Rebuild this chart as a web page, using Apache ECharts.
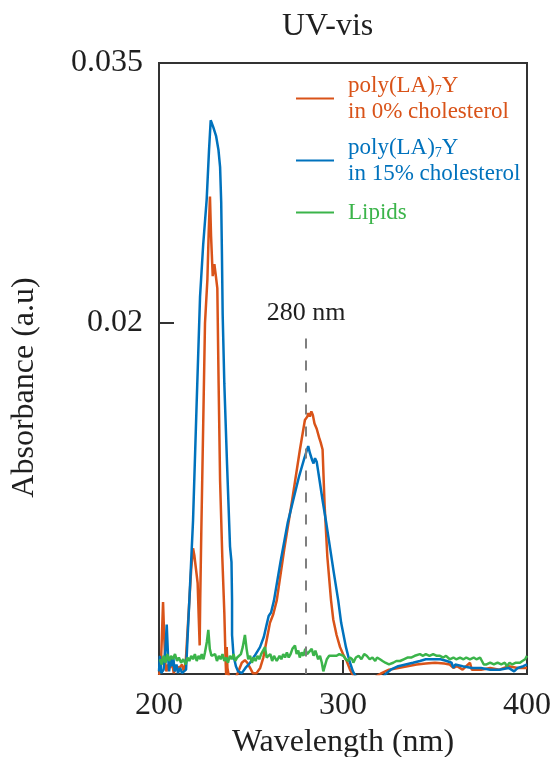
<!DOCTYPE html>
<html>
<head>
<meta charset="utf-8">
<title>UV-vis</title>
<script src="https://cdn.jsdelivr.net/npm/echarts@6/dist/echarts.min.js"></script>
<style>
  html, body { margin: 0; padding: 0; background: #fff; }
  #chart { width: 556px; height: 757px; }
</style>
</head>
<body>
<div id="chart"></div>
<script>
// Absorption spectra: wavelength (nm) and absorbance (a.u)

// poly(LA)7Y in 0% cholesterol
const wl0 = [
  200, 201, 201.6, 202.2, 202.8, 203.4, 204, 205, 206, 207,
  208, 209.5, 211, 212.5, 213.5, 214.5, 215.5, 216.5, 217.5, 218.5,
  219.2, 220.2, 221, 221.6, 222.1, 222.4, 223, 224, 225, 226.3,
  227, 227.7, 228.3, 229.2, 230.1, 230.8, 231.7, 232.4, 233.2, 234.4,
  235.5, 236.2, 236.5, 236.8, 237.2, 238, 240, 242, 243.5, 245,
  246.7, 248, 249.5, 251, 253, 255, 256.7, 258.5, 260.3, 262.1,
  264, 268, 272.4, 276.6, 279.3, 280.6, 281.2, 282, 282.8, 283.6,
  284.5, 285.2, 285.7, 287, 287.9, 288.9, 290, 291.5, 293.5, 294.7,
  296.5, 298.4, 300, 302, 303.8, 305.4, 310, 315, 321, 325,
  330, 335, 340, 345, 350, 355, 358, 360, 362, 365,
  369, 370, 375, 380, 385, 390, 395, 400
];
const abs0 = [
  -0.0003, 0.0002, 0.0020, 0.0039, 0.0020, 0.0004, -0.0001, 0.0003, 0.0001, 0.0005,
  -0.0002, 0.0002, 0.0001, 0.0003, -0.0001, 0.0004, 0.0022, 0.0040, 0.0058, 0.0070,
  0.0066, 0.0065, 0.0050, 0.0030, 0.0014, 0.0040, 0.0080, 0.0140, 0.0200, 0.0225,
  0.0252, 0.0273, 0.0250, 0.0227, 0.0234, 0.0228, 0.0220, 0.0165, 0.0109, 0.0065,
  0.0033, 0.0005, -0.0003, 0.0013, 0.0001, -0.0004, -0.0005, -0.0004, 0.0000, 0.0004,
  0.00055, 0.0004, 0.0001, -0.0002, -0.0002, 0.0001, 0.0007, 0.0017, 0.0027, 0.0032,
  0.0040, 0.0069, 0.0098, 0.0127, 0.0144, 0.0146, 0.0148, 0.0146, 0.0149, 0.0147,
  0.0142, 0.0143, 0.0139, 0.0134, 0.0131, 0.0127, 0.0095, 0.0065, 0.0040, 0.0029,
  0.0020, 0.0013, 0.0009, 0.0005, 0.0000, -0.0003, -0.0006, -0.0006, -0.0002, 0.0000,
  0.0001, 0.0002, 0.0003, 0.00035, 0.0004, 0.00035, 0.0003, 0.0001, 0.0002, 0.0000,
  0.0004, 0.0000, 0.0000, 0.0001, 0.0000, 0.0002, 0.0001, 0.0001
];

// poly(LA)7Y in 15% cholesterol
const wl15 = [
  200, 200.5, 201.2, 202.5, 203.5, 204.2, 204.9, 205.5, 206.3, 207,
  207.8, 208.5, 209.5, 210.3, 211.5, 212.5, 214.7, 216.5, 218.5, 220.5,
  222.3, 224, 225.9, 227.2, 228.1, 229.5, 231, 232.3, 233.2, 233.8,
  234.2, 234.6, 235.5, 237, 238.6, 239.4, 239.7, 239.7, 240.5, 241.8,
  243, 245, 247, 249.5, 252, 254.9, 257, 258.5, 259.6, 260.2,
  260.9, 262.5, 266, 270, 273, 276, 279, 281.1, 282, 283.2,
  284, 284.8, 285.7, 287, 289, 291, 293, 295, 297.4, 299,
  301.6, 303.5, 305.4, 307, 315, 322, 323.7, 326, 330, 334,
  338, 341.8, 345, 349, 353, 356.4, 359, 360, 361, 365,
  370, 375, 380, 385, 390, 393, 395, 398, 400
];
const abs15 = [
  -0.0001, 0.0008, -0.0002, 0.0000, 0.0012, 0.0026, 0.0008, -0.0001, 0.0006, 0.0002,
  0.0007, -0.0001, 0.0003, -0.0002, 0.0001, -0.0002, 0.0000, 0.0040, 0.0086, 0.0155,
  0.0215, 0.0245, 0.0271, 0.0300, 0.0317, 0.0313, 0.0308, 0.0300, 0.0290, 0.0270,
  0.0240, 0.0205, 0.0165, 0.0118, 0.0071, 0.0062, 0.0040, 0.0020, 0.0008, 0.0002,
  -0.0001, -0.0002, 0.0001, 0.0004, 0.0008, 0.0013, 0.0019, 0.0026, 0.0031, 0.0032,
  0.0033, 0.0040, 0.0062, 0.0085, 0.0098, 0.0111, 0.0122, 0.0129, 0.0125, 0.0121,
  0.0119, 0.0122, 0.0120, 0.0111, 0.0097, 0.0084, 0.0070, 0.0056, 0.0040, 0.0027,
  0.0013, 0.0005, -0.0001, -0.0004, -0.0006, -0.0004, -0.0002, 0.0000, 0.0002, 0.0003,
  0.0004, 0.0005, 0.0006, 0.0006, 0.0006, 0.0005, 0.0004, 0.0001, 0.0003, 0.0002,
  0.0001, 0.0001, 0.0000, 0.0000, 0.0001, -0.0001, 0.0001, 0.0002, 0.0003
];

// Lipids
const wlLip = [
  200.5, 201.5, 202.5, 203.5, 204.5, 205.5, 206.5, 207.5, 208.7, 209.8,
  210.8, 212, 213.2, 214.5, 215.5, 216.5, 217.5, 218.5, 219.5, 220.5,
  221.5, 222.5, 223.2, 224.2, 225, 226, 226.8, 227.6, 228.5, 229.5,
  230.5, 231.5, 232.5, 233.5, 234.5, 235.5, 236.5, 237.5, 238.5, 239.5,
  240.5, 241.5, 242.5, 243.5, 244.5, 245.5, 246.7, 247.6, 248.5, 249.5,
  250.5, 251.5, 252.5, 253.5, 254.5, 255.5, 256.5, 257.6, 258.5, 259.5,
  260.5, 261.5, 262.5, 264, 265.5, 266.5, 267.5, 268.5, 269.5, 270.5,
  271.5, 272.5, 273.9, 274.8, 275.7, 276.5, 277.5, 278.5, 279.5, 280.5,
  281.5, 283, 284, 285, 285.7, 286.5, 287.5, 288.5, 289.3, 290.2,
  291.2, 292.5, 293.9, 295, 296.5, 298, 300.2, 301.5, 302.8, 303.8,
  305, 305.6, 307, 308.5, 310, 311.5, 312.9, 314.5, 316, 317.5,
  318.5, 320.1, 321.5, 323, 325, 327.3, 329, 331, 333, 335,
  337, 339, 341.8, 343.5, 345, 347, 349, 351, 352.7, 354.5,
  356, 358, 360, 361.5, 363.6, 365.5, 367, 369, 371, 372.5,
  374.5, 375.5, 376.5, 378, 380, 382, 384, 386, 388, 389,
  390.5, 392, 394, 396.2, 397.5, 399, 400
];
const absLip = [
  0.0006, 0.0003, 0.0008, 0.0004, 0.0009, 0.0005, 0.0008, 0.0006, 0.0009, 0.0005,
  0.0007, 0.0004, 0.0006, 0.0003, 0.0007, 0.0005, 0.0008, 0.0006, 0.0009, 0.0005,
  0.0008, 0.0006, 0.0009, 0.0006, 0.0010, 0.0016, 0.0023, 0.0012, 0.0008, 0.0007,
  0.0009, 0.0005, 0.0008, 0.0006, 0.0009, 0.0005, 0.0007, 0.0004, 0.0008, 0.0006,
  0.0009, 0.0005, 0.0007, 0.0006, 0.0009, 0.0013, 0.0020, 0.0012, 0.0006, 0.0008,
  0.0004, 0.0007, 0.0005, 0.0008, 0.0006, 0.0009, 0.0008, 0.0013, 0.0007, 0.0006,
  0.0009, 0.0005, 0.0008, 0.0005, 0.0008, 0.0006, 0.0009, 0.0007, 0.0010, 0.0007,
  0.0009, 0.0012, 0.0014, 0.0009, 0.0011, 0.0007, 0.0010, 0.0008, 0.0012, 0.0009,
  0.0010, 0.0012, 0.0008, 0.0011, 0.0010, 0.0006, 0.0008, 0.0004, -0.0001, 0.0000,
  0.0006, 0.0008, 0.0008, 0.0008, 0.0008, 0.0009, 0.0008, 0.0006, 0.0005, 0.0007,
  0.0006, 0.0004, 0.0007, 0.0008, 0.0006, 0.0009, 0.0008, 0.0006, 0.0007, 0.0005,
  0.0007, 0.0006, 0.0005, 0.0004, 0.0003, 0.0004, 0.0005, 0.0005, 0.0006, 0.0007,
  0.0007, 0.0008, 0.0009, 0.0008, 0.0009, 0.0008, 0.0009, 0.0008, 0.0008, 0.0007,
  0.0008, 0.0006, 0.0007, 0.0006, 0.0007, 0.0006, 0.0007, 0.0006, 0.0007, 0.0006,
  0.0007, 0.0005, 0.0003, 0.0003, 0.0004, 0.0003, 0.0004, 0.0003, 0.0004, 0.0002,
  0.0004, 0.0003, 0.0004, 0.0004, 0.0005, 0.0006, 0.0008
];

// Axis ticks
const xTicks = [200, 300, 400];
const yTicks = [0.02, 0.035];
const peakMarker = 280;

const names = ['poly0', 'poly15', 'lipids'];
const colors = { poly0: '#D95319', poly15: '#0072BD', lipids: '#3BB44A' };

const FONT = '"Liberation Serif", "Times New Roman", serif';
const INK = '#1f1f1f';
const LINE_W = 2.5;

function zip(xs, ys) {
  const out = [];
  const n = Math.min(xs.length, ys.length);
  for (let i = 0; i < n; i++) out.push([xs[i], ys[i]]);
  return out;
}

function richFor(color) {
  return {
    t: { fontFamily: FONT, fontSize: 23, lineHeight: 26, color: color },
    s: { fontFamily: FONT, fontSize: 14, lineHeight: 15, color: color, verticalAlign: 'bottom' }
  };
}

function legendBlock(name, top, formatter) {
  return {
    show: true,
    orient: 'vertical',
    left: 296,
    top: top,
    padding: 0,
    itemWidth: 38,
    itemHeight: 2,
    icon: 'rect',
    selectedMode: false,
    data: [name],
    formatter: formatter,
    textStyle: {
      padding: [0, 0, 0, 9],
      fontFamily: FONT,
      fontSize: 23,
      color: colors[name],
      rich: richFor(colors[name])
    }
  };
}

const chart = echarts.init(document.getElementById('chart'), null, { renderer: 'canvas' });

const option = {
  animation: false,
  backgroundColor: '#ffffff',
  title: {
    text: 'UV-vis',
    left: 282,
    top: 11,
    padding: 0,
    textStyle: { fontFamily: FONT, fontSize: 32, fontWeight: 'normal', color: INK }
  },
  legend: [
    legendBlock('poly0', 74, () => '{t|poly(LA)}{s|7}{t|Y}\n{t|in 0% cholesterol}'),
    legendBlock('poly15', 136, () => '{t|poly(LA)}{s|7}{t|Y}\n{t|in 15% cholesterol}'),
    legendBlock('lipids', 201, () => '{t|Lipids}')
  ],
  grid: {
    left: 159,
    right: 29,
    top: 63,
    bottom: 83,
    containLabel: false,
    outerBoundsMode: 'none',
    show: true,
    borderColor: '#333333',
    borderWidth: 2,
    backgroundColor: 'transparent'
  },
  xAxis: {
    type: 'value',
    min: xTicks[0],
    max: xTicks[xTicks.length - 1],
    interval: 100,
    name: 'Wavelength (nm)',
    nameLocation: 'middle',
    nameGap: 50,
    nameTextStyle: { fontFamily: FONT, fontSize: 32, color: INK },
    axisLine: { show: true, onZero: false, lineStyle: { color: '#333333', width: 2 } },
    axisTick: { show: true, inside: true, length: 14, lineStyle: { color: '#333333', width: 2 } },
    axisLabel: { fontFamily: FONT, fontSize: 32, color: INK, margin: 16, hideOverlap: false,
                 showMinLabel: true, showMaxLabel: true },
    splitLine: { show: false }
  },
  yAxis: {
    type: 'value',
    min: -0.00025,
    max: 0.035,
    name: 'Absorbance (a.u)',
    nameLocation: 'middle',
    nameGap: 118,
    nameTextStyle: { fontFamily: FONT, fontSize: 32, color: INK, padding: [0, 38, 0, 0] },
    axisLine: { show: true, onZero: false, lineStyle: { color: '#333333', width: 2 } },
    axisTick: { show: true, inside: true, length: 15, customValues: yTicks,
                lineStyle: { color: '#333333', width: 2 } },
    axisLabel: {
      fontFamily: FONT, fontSize: 32, color: INK, margin: 16,
      customValues: yTicks,
      formatter: v => String(+v.toFixed(3))
    },
    splitLine: { show: false }
  },
  series: [
    {
      name: names[0],
      type: 'line',
      data: zip(wl0, abs0),
      showSymbol: false,
      symbol: 'none',
      clip: true,
      lineStyle: { color: colors.poly0, width: LINE_W },
      itemStyle: { color: colors.poly0 },
      markLine: {
        silent: true,
        symbol: ['none', 'none'],
        lineStyle: { color: '#7f7f7f', width: 2, type: [10, 12] },
        label: {
          show: true,
          position: 'start',
          distance: 12,
          formatter: peakMarker + ' nm',
          fontFamily: FONT,
          fontSize: 26,
          color: INK
        },
        data: [[{ coord: [peakMarker, 0.0191] }, { coord: [peakMarker, -0.00025] }]]
      }
    },
    {
      name: names[1],
      type: 'line',
      data: zip(wl15, abs15),
      showSymbol: false,
      symbol: 'none',
      clip: true,
      lineStyle: { color: colors.poly15, width: LINE_W },
      itemStyle: { color: colors.poly15 }
    },
    {
      name: names[2],
      type: 'line',
      data: zip(wlLip, absLip),
      showSymbol: false,
      symbol: 'none',
      clip: true,
      lineStyle: { color: colors.lipids, width: LINE_W },
      itemStyle: { color: colors.lipids }
    }
  ]
};

chart.setOption(option);
</script>
</body>
</html>
